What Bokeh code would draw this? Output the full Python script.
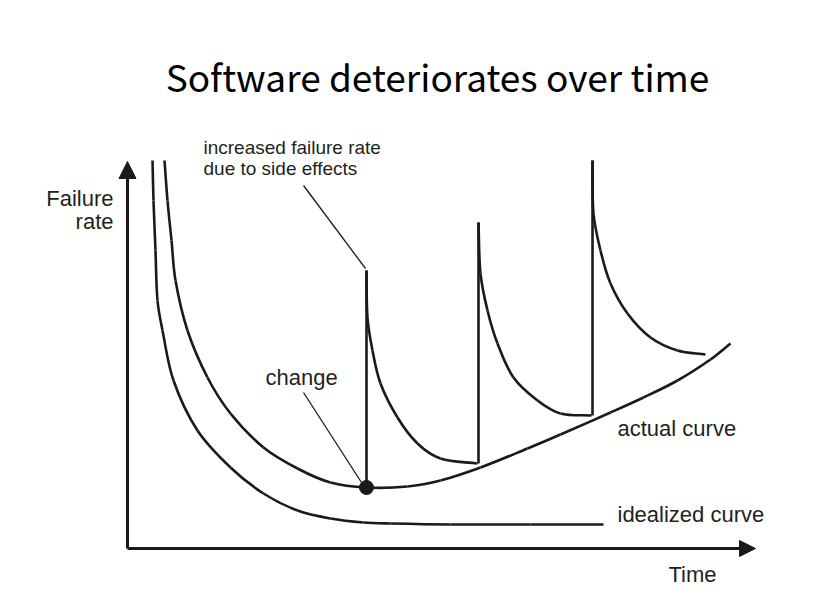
import math
from bokeh.plotting import figure
from bokeh.models import Range1d, Arrow, NormalHead, Label
from bokeh.embed import file_html
from bokeh.resources import INLINE

# ---- data (time, failure rate) in arbitrary diagram units ----
ideal_t = [25, 26, 28, 30, 35, 46, 70, 103, 136, 170, 203, 236, 263, 323, 403, 476]
ideal_r = [388, 348, 298, 248, 218, 168, 118, 81, 55, 38, 30, 26, 25, 24, 24, 24]

actual_t = [37, 40, 44, 48, 60, 80, 103, 136, 170, 203, 239, 280, 313, 353, 400, 433, 483, 516, 550, 583, 603]
actual_r = [388, 348, 308, 268, 218, 171, 135, 101, 80, 66, 61, 62, 68, 81, 100, 114, 136, 151, 168, 189, 205]

change_t = [239]
change_r = [61]

decay1_t = [239, 240, 245, 253, 270, 290, 313, 350]
decay1_r = [278, 231, 198, 165, 131, 105, 90, 85]
decay2_t = [351, 353, 360, 370, 386, 410, 433, 464]
decay2_r = [326, 275, 238, 205, 171, 148, 135, 133]
decay3_t = [465, 466, 473, 483, 500, 523, 550, 578]
decay3_r = [388, 335, 298, 265, 235, 211, 198, 194]

axis_t_max = 628
axis_r_max = 387

INK = "#1a1a1a"
TXT = "#231f20"


def smooth(xs, ys):
    """Cubic Bezier pieces through the read points (tangent-based smoothing)."""
    n = len(xs)
    dirs = []
    for i in range(n):
        a = max(i - 1, 0)
        b = min(i + 1, n - 1)
        dx, dy = xs[b] - xs[a], ys[b] - ys[a]
        L = math.hypot(dx, dy) or 1.0
        dirs.append((dx / L, dy / L))
    out = dict(x0=[], y0=[], x1=[], y1=[], cx0=[], cy0=[], cx1=[], cy1=[])
    for i in range(n - 1):
        d = math.hypot(xs[i + 1] - xs[i], ys[i + 1] - ys[i]) / 3.0
        out["x0"].append(xs[i]); out["y0"].append(ys[i])
        out["x1"].append(xs[i + 1]); out["y1"].append(ys[i + 1])
        out["cx0"].append(xs[i] + dirs[i][0] * d); out["cy0"].append(ys[i] + dirs[i][1] * d)
        out["cx1"].append(xs[i + 1] - dirs[i + 1][0] * d); out["cy1"].append(ys[i + 1] - dirs[i + 1][1] * d)
    return out


p = figure(width=827, height=608, output_backend="svg", toolbar_location=None,
           x_range=Range1d(-127, 700), y_range=Range1d(-60, 548),
           min_border=0, outline_line_color=None)
p.axis.visible = False
p.grid.visible = False
p.background_fill_color = "white"
p.border_fill_color = "white"

# axes with arrows
p.add_layout(Arrow(x_start=0, y_start=0, x_end=0, y_end=axis_r_max, line_width=3, line_color=INK,
                   end=NormalHead(size=17, fill_color=INK, line_color=INK, line_width=1)))
p.add_layout(Arrow(x_start=0, y_start=0, x_end=axis_t_max, y_end=0, line_width=3, line_color=INK,
                   end=NormalHead(size=16, fill_color=INK, line_color=INK, line_width=1)))

# smooth curves
for xs, ys in [(ideal_t, ideal_r), (actual_t, actual_r),
               (decay1_t, decay1_r), (decay2_t, decay2_r), (decay3_t, decay3_r)]:
    b = smooth(xs, ys)
    p.bezier(x0=b["x0"], y0=b["y0"], x1=b["x1"], y1=b["y1"],
             cx0=b["cx0"], cy0=b["cy0"], cx1=b["cx1"], cy1=b["cy1"],
             line_width=2.6, line_color=INK)

# vertical jumps at each change
p.segment(x0=[change_t[0], decay1_t[-1] + 1, decay2_t[-1] + 1],
          y0=[change_r[0], decay1_r[-1], decay2_r[-1]],
          x1=[decay1_t[0], decay2_t[0], decay3_t[0]],
          y1=[decay1_r[0], decay2_r[0], decay3_r[0]],
          line_width=2.6, line_color=INK)

p.scatter(change_t, change_r, size=14, color=INK)

# leader lines
p.line([176, decay1_t[0] - 1], [363, decay1_r[0] + 2], line_width=1.3, line_color=INK)
p.line([176, change_t[0] - 5], [156, change_r[0] + 5], line_width=1.3, line_color=INK)

lab = dict(text_font="Liberation Sans", text_color=TXT, text_baseline="alphabetic")
p.add_layout(Label(x=-14, y=350, text="Failure", text_align="right", text_font_size="22px", **lab))
p.add_layout(Label(x=-14, y=327, text="rate", text_align="right", text_font_size="22px", **lab))
p.add_layout(Label(x=76, y=401, text="increased failure rate", text_font_size="19px", **lab))
p.add_layout(Label(x=76, y=380, text="due to side effects", text_font_size="19px", **lab))
p.add_layout(Label(x=138, y=171, text="change", text_font_size="22px", **lab))
p.add_layout(Label(x=490, y=120, text="actual curve", text_font_size="22px", **lab))
p.add_layout(Label(x=490, y=34, text="idealized curve", text_font_size="22px", **lab))
p.add_layout(Label(x=541, y=-26, text="Time", text_font_size="22px", **lab))

p.add_layout(Label(x=310, y=473, text="Software deteriorates over time", text_align="center",
                   text_font="Noto Sans CJK SC", text_font_size="37px", text_color="#000000",
                   text_baseline="alphabetic"))

open("out.html", "w").write(file_html(p, INLINE))
